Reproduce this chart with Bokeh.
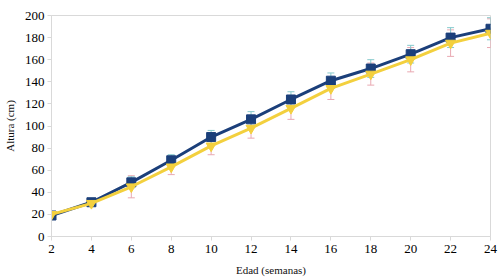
from bokeh.plotting import figure
from bokeh.models import Range1d, FixedTicker, Whisker, ColumnDataSource, TeeHead
from bokeh.embed import file_html
from bokeh.resources import INLINE

weeks = [2, 4, 6, 8, 10, 12, 14, 16, 18, 20, 22, 24]
blue_vals = [19, 31, 49, 69, 90, 106, 124, 141, 152, 165, 180, 188]
blue_err = [2, 2, 5, 5, 6, 7, 7, 7, 8, 8, 9, 10]
yellow_vals = [20, 30, 45, 63, 82, 98, 116, 134, 147, 160, 175, 184]
yellow_err = [2, 2, 10, 7, 8, 9, 10, 10, 10, 11, 12, 13]
x_ticks = weeks
y_ticks = [0, 20, 40, 60, 80, 100, 120, 140, 160, 180, 200]

BLUE = "#1b3f7a"
YELLOW = "#f3d03e"
BLUE_ERR = "#86c9cc"
YELLOW_ERR = "#e9a9b2"
FONT = "Liberation Serif"

p = figure(width=500, height=280, output_backend="svg", toolbar_location=None,
           x_range=Range1d(2, 24), y_range=Range1d(0, 200),
           min_border_left=49, min_border_right=10, min_border_top=15, min_border_bottom=44)

p.xgrid.visible = False
p.ygrid.visible = False
p.outline_line_color = "#d9d9d9"
p.outline_line_width = 1
p.background_fill_color = "white"
p.border_fill_color = "white"

for ax in (p.xaxis[0], p.yaxis[0]):
    ax.axis_line_color = "#d9d9d9"
    ax.major_tick_line_color = "#d9d9d9"
    ax.minor_tick_line_color = None
    ax.major_tick_out = 4
    ax.major_tick_in = 0
    ax.major_label_text_font = FONT
    ax.major_label_text_font_size = "13px"
    ax.major_label_text_color = "#000000"
    ax.axis_label_text_font = FONT
    ax.axis_label_text_font_size = "11px"
    ax.axis_label_text_font_style = "normal"
    ax.axis_label_text_color = "#111111"

p.xaxis.ticker = FixedTicker(ticks=x_ticks)
p.yaxis.ticker = FixedTicker(ticks=y_ticks)
p.xaxis.axis_label = "Edad (semanas)"
p.yaxis.axis_label = "Altura (cm)"
p.xaxis.major_label_standoff = 4
p.yaxis.major_label_standoff = 3
p.xaxis.axis_label_standoff = 8
p.yaxis.axis_label_standoff = 6

src_b = ColumnDataSource(dict(x=weeks, y=blue_vals,
                              lo=[v - e for v, e in zip(blue_vals, blue_err)],
                              hi=[v + e for v, e in zip(blue_vals, blue_err)]))
src_y = ColumnDataSource(dict(x=weeks, y=yellow_vals,
                              lo=[v - e for v, e in zip(yellow_vals, yellow_err)],
                              hi=[v + e for v, e in zip(yellow_vals, yellow_err)]))

for src, col in ((src_y, YELLOW_ERR), (src_b, BLUE_ERR)):
    w = Whisker(source=src, base="x", lower="lo", upper="hi",
                line_color=col, line_width=1,
                upper_head=TeeHead(size=7, line_color=col, line_width=1),
                lower_head=TeeHead(size=7, line_color=col, line_width=1))
    p.add_layout(w)

p.line("x", "y", source=src_b, line_color=BLUE, line_width=3)
p.scatter("x", "y", source=src_b, marker="square", size=9, fill_color=BLUE, line_color=BLUE)
p.line("x", "y", source=src_y, line_color=YELLOW, line_width=3)
p.scatter("x", "y", source=src_y, marker="inverted_triangle", size=10, fill_color=YELLOW, line_color=YELLOW)

open("out.html", "w").write(file_html(p, INLINE))
